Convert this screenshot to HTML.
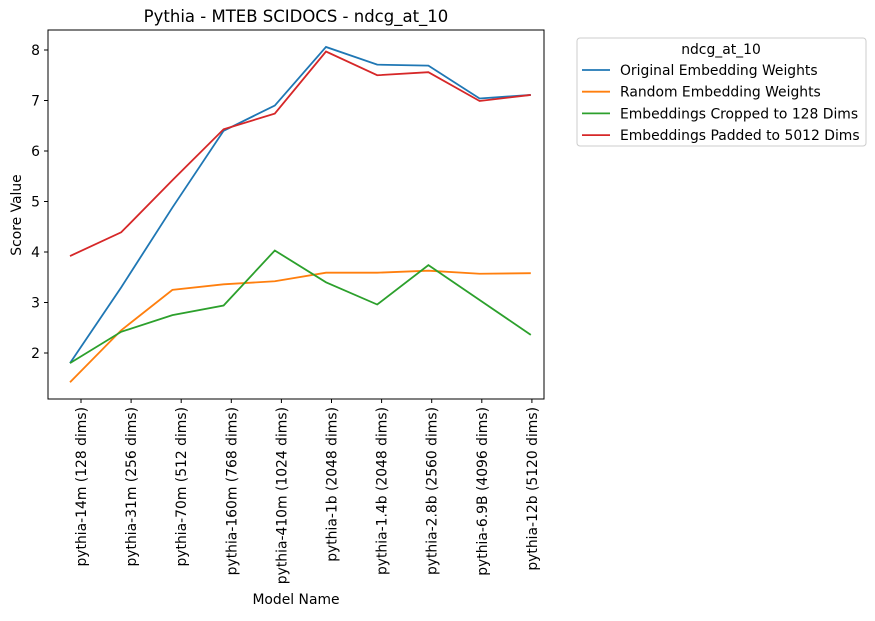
<!DOCTYPE html>
<html><head><meta charset="utf-8"><style>
body{margin:0;background:#fff;font-family:"Liberation Sans","DejaVu Sans",sans-serif;}
svg text{font-family:"DejaVu Sans","Liberation Sans",sans-serif;fill:#000;}
</style></head><body>
<svg id="chart" width="875" height="616" viewBox="0 0 875 616" xmlns="http://www.w3.org/2000/svg">
<text x="296" y="22" font-size="16.5" text-anchor="middle">Pythia - MTEB SCIDOCS - ndcg_at_10</text>
<rect x="48" y="30" width="496" height="369" fill="none" stroke="#000" stroke-width="1"/>
<g id="yaxis"></g>
<g id="xaxis"></g>
<g id="series"></g>
<text transform="translate(21,215) rotate(-90)" font-size="13.9" text-anchor="middle">Score Value</text>
<text x="296" y="604" font-size="13.9" text-anchor="middle">Model Name</text>
<g>
<rect x="577" y="38" width="289" height="108" rx="3" fill="#fff" stroke="#ccc"/>
<text x="721" y="54" font-size="13.9" text-anchor="middle">ndcg_at_10</text>
<g id="legend-entries"></g>
</g>
</svg>
<script>
const categories=["pythia-14m (128 dims)","pythia-31m (256 dims)","pythia-70m (512 dims)","pythia-160m (768 dims)","pythia-410m (1024 dims)","pythia-1b (2048 dims)","pythia-1.4b (2048 dims)","pythia-2.8b (2560 dims)","pythia-6.9B (4096 dims)","pythia-12b (5120 dims)"];
const seriesNames=["Original Embedding Weights","Random Embedding Weights","Embeddings Cropped to 128 Dims","Embeddings Padded to 5012 Dims"];
const original=[1.8,3.3,4.88,6.4,6.9,8.06,7.71,7.69,7.04,7.11];
const random=[1.42,2.45,3.25,3.36,3.42,3.59,3.59,3.63,3.57,3.58];
const cropped=[1.8,2.42,2.75,2.94,4.03,3.4,2.96,3.74,3.05,2.36];
const padded=[3.92,4.39,5.42,6.43,6.74,7.97,7.5,7.56,6.99,7.11];
const yTicks=[2,3,4,5,6,7,8];
const colors=["#1f77b4","#ff7f0e","#2ca02c","#d62728"];
const all=[original,random,cropped,padded];
const NS="http://www.w3.org/2000/svg";
function y(v){return 353-(v-2)*50.5;}
function xp(i){return 70+i*51.2;}
function xt(i){return 81+i*50.1;}
function mk(t,a,p){const e=document.createElementNS(NS,t);for(const k in a)e.setAttribute(k,a[k]);p.appendChild(e);return e;}
const ya=document.getElementById('yaxis');
yTicks.forEach(v=>{
 const l=mk('line',{x1:44,x2:48,y1:y(v),y2:y(v),stroke:'#000'},ya);
 
 
 const t=mk('text',{x:40,y:y(v)+5,'font-size':13.9,'text-anchor':'end'},ya);
 
 
 t.textContent=v;
});
const xa=document.getElementById('xaxis');
categories.forEach((c,i)=>{
 const l=mk('line',{x1:xt(i),x2:xt(i),y1:399,y2:403,stroke:'#000'},xa);
 
 
 const t=mk('text',{transform:`translate(${xt(i)+5},407) rotate(-90)`,'font-size':13.9,'text-anchor':'end'},xa);
 
 
 t.textContent=c;
});
const sg=document.getElementById('series');
all.forEach((s,k)=>{
 const p=mk('polyline',{points:s.map((v,i)=>xp(i)+','+y(v)).join(' '),fill:'none',stroke:colors[k],'stroke-width':1.8},sg);
 
 
});
const lg=document.getElementById('legend-entries');
seriesNames.forEach((n,k)=>{
 const yy=70+k*21.7;
 const l=mk('line',{x1:582,x2:610,y1:yy,y2:yy,stroke:colors[k],'stroke-width':1.8},lg);
 
 
 const t=mk('text',{x:620,y:yy+5,'font-size':13.9},lg);
 
 
 t.textContent=n;
});
</script>
</body></html>
